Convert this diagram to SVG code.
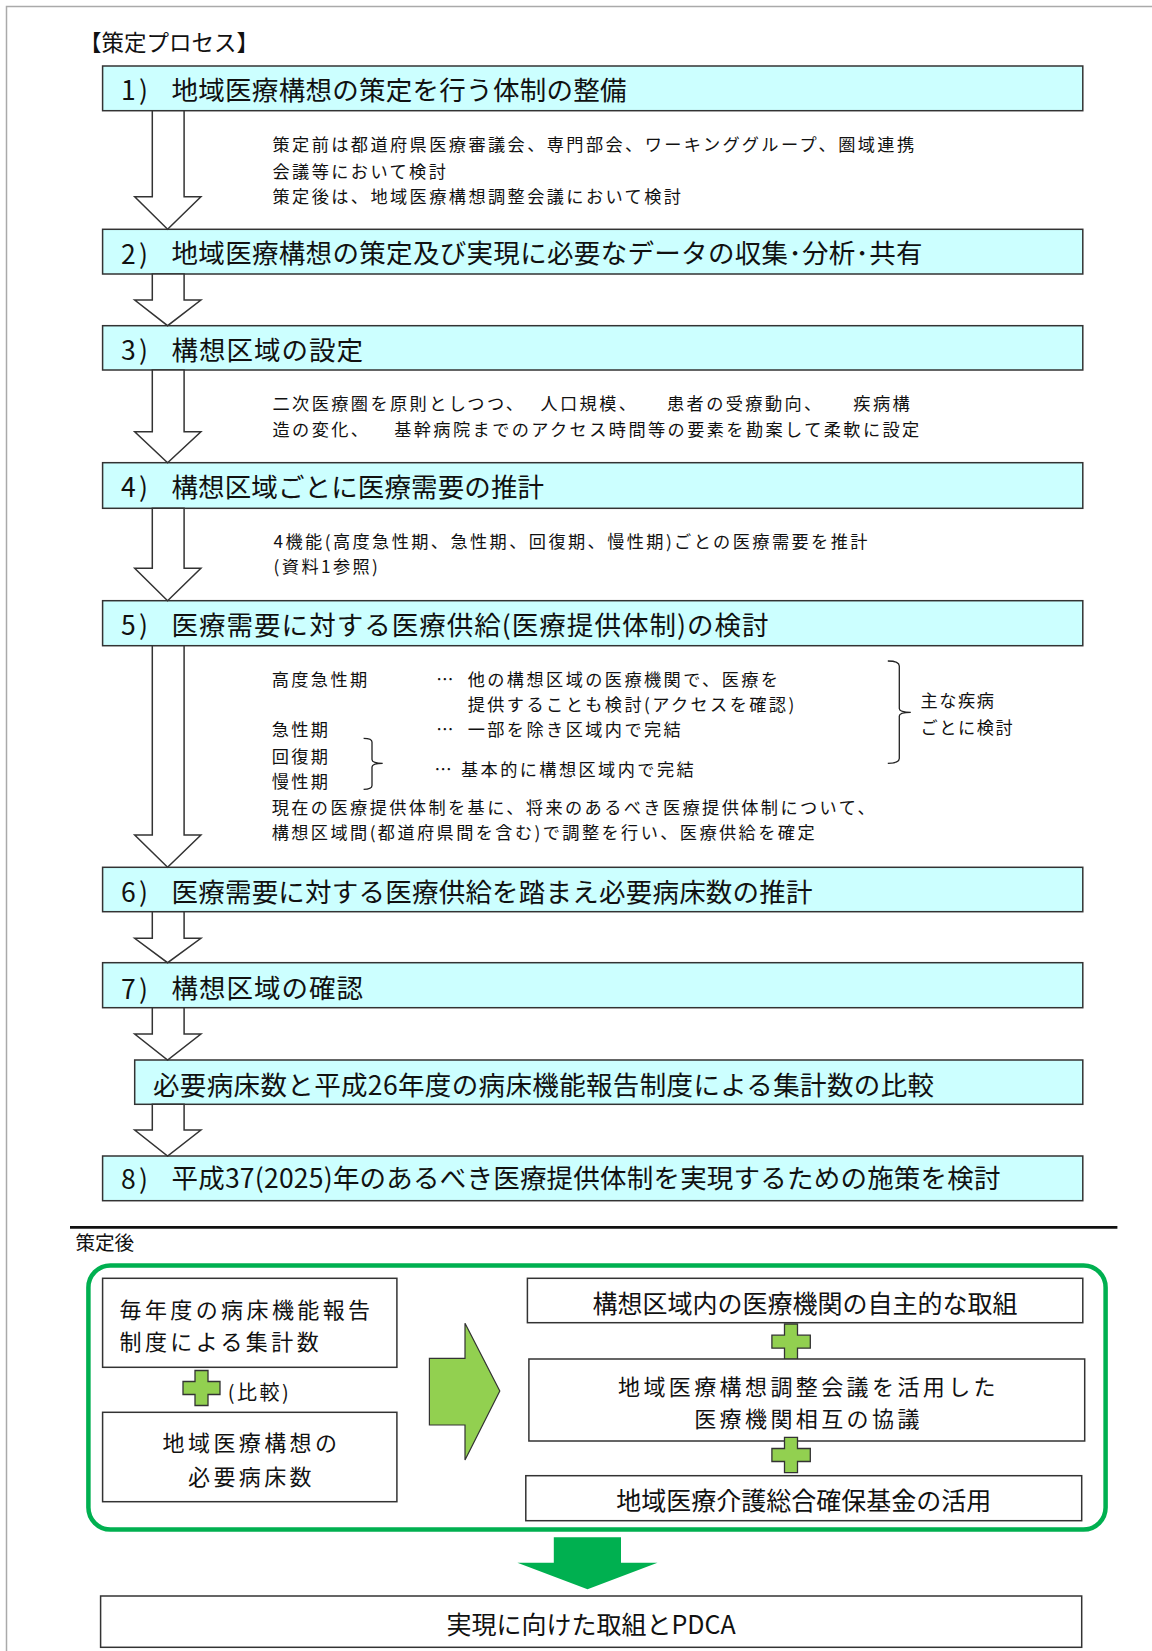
<svg xmlns="http://www.w3.org/2000/svg" width="1152" height="1651" viewBox="0 0 1152 1651">
<style>
.box{fill:#CCFFFF;stroke:#333;stroke-width:1.5}
.wbox{fill:#fff;stroke:#333;stroke-width:1.5}
.arrow{fill:#fff;stroke:#333;stroke-width:1.5;stroke-linejoin:miter}
.plus{fill:#92D050;stroke:#333;stroke-width:1.3}
.t{font-family:"Noto Sans CJK JP","Noto Sans",sans-serif;fill:#111;dominant-baseline:central}
.h{font-size:26.5px}
.d{font-size:17.2px;letter-spacing:2.4px}
.b{font-size:22px;letter-spacing:3.4px}
.b1{font-size:25px}
.mid{text-anchor:middle}
.br{fill:none;stroke:#222;stroke-width:1.3}
</style>
<rect x="0" y="0" width="1152" height="1651" fill="#fff"/>
<path d="M6.5,1651 L6.5,6.5 L1152,6.5" fill="none" stroke="#aaa" stroke-width="1.5"/>
<text class="t" x="79" y="40.5" font-size="22.5px">【策定プロセス】</text>

<g id="step1">
<rect class="box" x="102.6" y="66" width="980.2" height="44.7"/>
<text class="t h" y="88.3"><tspan x="121">1</tspan><tspan x="139">)</tspan></text>
<text class="t h" x="171.5" y="88.3" textLength="455" lengthAdjust="spacing">地域医療構想の策定を行う体制の整備</text>
</g>
<g id="note1">
<text class="t d" x="272.5" y="143.3">策定前は都道府県医療審議会、専門部会、ワーキンググループ、圏域連携</text>
<text class="t d" x="272.5" y="170">会議等において検討</text>
<text class="t d" x="272.5" y="195">策定後は、地域医療構想調整会議において検討</text>
</g>
<g id="step2">
<rect class="box" x="102.6" y="229.3" width="980.2" height="44.7"/>
<text class="t h" y="251.7"><tspan x="121">2</tspan><tspan x="139">)</tspan></text>
<text class="t h" x="171.5" y="251.7" textLength="751" lengthAdjust="spacing">地域医療構想の策定及び実現に必要なデータの収集･分析･共有</text>
</g>
<g id="step3">
<rect class="box" x="102.6" y="325.7" width="980.2" height="44.3"/>
<text class="t h" y="348.3"><tspan x="121">3</tspan><tspan x="139">)</tspan></text>
<text class="t h" x="171.5" y="348.3" textLength="191.5" lengthAdjust="spacing">構想区域の設定</text>
</g>
<g id="note3">
<text class="t d" y="401.7"><tspan x="272.5">二次医療圏を原則としつつ、</tspan><tspan x="540.4">人口規模、</tspan><tspan x="667">患者の受療動向、</tspan><tspan x="853.3">疾病構</tspan></text>
<text class="t d" y="428.3"><tspan x="272.5">造の変化、</tspan><tspan x="394.2">基幹病院までのアクセス時間等の要素を勘案して柔軟に設定</tspan></text>
</g>
<g id="step4">
<rect class="box" x="102.6" y="462.7" width="980.2" height="45.6"/>
<text class="t h" y="485"><tspan x="121">4</tspan><tspan x="139">)</tspan></text>
<text class="t h" x="171.5" y="485" textLength="372.5" lengthAdjust="spacing">構想区域ごとに医療需要の推計</text>
</g>
<g id="note4">
<text class="t d" x="273.6" y="540">4機能(高度急性期、急性期、回復期、慢性期)ごとの医療需要を推計</text>
<text class="t d" x="273.6" y="565">(資料1参照)</text>
</g>
<g id="step5">
<rect class="box" x="102.6" y="600.7" width="980.2" height="45"/>
<text class="t h" y="623.3"><tspan x="121">5</tspan><tspan x="139">)</tspan></text>
<text class="t h" x="171.5" y="623.3" textLength="597" lengthAdjust="spacing">医療需要に対する医療供給(医療提供体制)の検討</text>
</g>
<g id="note5">
<text class="t d" x="271.7" y="678.3">高度急性期</text>
<text class="t d" x="436.3" y="678.3">…</text>
<text class="t d" x="467.7" y="678.3">他の構想区域の医療機関で、医療を</text>
<text class="t d" x="467.7" y="703.3">提供することも検討(アクセスを確認)</text>
<text class="t d" x="271.7" y="728.3">急性期</text>
<text class="t d" x="436.3" y="728.3">…</text>
<text class="t d" x="467.7" y="728.3">一部を除き区域内で完結</text>
<text class="t d" x="271.7" y="755">回復期</text>
<text class="t d" x="271.7" y="780">慢性期</text>
<path class="br" d="M363.6,738.3 Q372,738.3 372,742 L372,759.5 Q372,763.3 382.7,763.3 Q372,763.3 372,767 L372,785.5 Q372,789.3 363.6,789.3"/>
<text class="t d" x="434.4" y="768.3">…</text>
<text class="t d" x="461" y="768.3">基本的に構想区域内で完結</text>
<path class="br" d="M887.8,661 Q899.3,661 899.3,666 L899.3,708.5 Q899.3,712.3 910.8,712.3 Q899.3,712.3 899.3,716 L899.3,758.5 Q899.3,763.3 887.8,763.3"/>
<text class="t d" x="920.4" y="699" style="letter-spacing:1.6px">主な疾病</text>
<text class="t d" x="920.4" y="726.7" style="letter-spacing:1.6px">ごとに検討</text>
<text class="t d" x="271.7" y="806.7">現在の医療提供体制を基に、将来のあるべき医療提供体制について、</text>
<text class="t d" x="271.7" y="831.7">構想区域間(都道府県間を含む)で調整を行い、医療供給を確定</text>
</g>
<g id="step6">
<rect class="box" x="102.6" y="867.3" width="980.2" height="44.4"/>
<text class="t h" y="890"><tspan x="121">6</tspan><tspan x="139">)</tspan></text>
<text class="t h" x="171.5" y="890" textLength="641" lengthAdjust="spacing">医療需要に対する医療供給を踏まえ必要病床数の推計</text>
</g>
<g id="step7">
<rect class="box" x="102.6" y="962.7" width="980.2" height="45"/>
<text class="t h" y="986.7"><tspan x="121">7</tspan><tspan x="139">)</tspan></text>
<text class="t h" x="171.5" y="986.7" textLength="191.5" lengthAdjust="spacing">構想区域の確認</text>
</g>
<g id="compare">
<rect class="box" x="134.7" y="1060" width="948.1" height="44.3"/>
<text class="t h" x="153" y="1083.3" textLength="781" lengthAdjust="spacing">必要病床数と平成26年度の病床機能報告制度による集計数の比較</text>
</g>
<g id="step8">
<rect class="box" x="102.6" y="1156" width="980.2" height="44.7"/>
<text class="t h" y="1176.7"><tspan x="121">8</tspan><tspan x="139">)</tspan></text>
<text class="t h" x="171.5" y="1176.7" textLength="829" lengthAdjust="spacing">平成37(2025)年のあるべき医療提供体制を実現するための施策を検討</text>
</g>

<g id="connectors">
<polygon class="arrow" points="152.3,110.7 184.1,110.7 184.1,196.7 200.9,196.7 167.6,229.3 134.7,196.7 152.3,196.7"/>
<polygon class="arrow" points="152.3,274 184.1,274 184.1,300 200.9,300 167.6,325.7 134.7,300 152.3,300"/>
<polygon class="arrow" points="152.3,370 184.1,370 184.1,431.7 200.9,431.7 167.6,462.7 134.7,431.7 152.3,431.7"/>
<polygon class="arrow" points="152.3,508.3 184.1,508.3 184.1,568.3 200.9,568.3 167.6,600.7 134.7,568.3 152.3,568.3"/>
<polygon class="arrow" points="152.3,645.7 184.1,645.7 184.1,835 200.9,835 167.6,867.3 134.7,835 152.3,835"/>
<polygon class="arrow" points="152.3,911.7 184.1,911.7 184.1,938.3 200.9,938.3 167.6,962.7 134.7,938.3 152.3,938.3"/>
<polygon class="arrow" points="152.3,1007.7 184.1,1007.7 184.1,1034 200.9,1034 167.6,1060 134.7,1034 152.3,1034"/>
<polygon class="arrow" points="152.3,1104.3 184.1,1104.3 184.1,1130 200.9,1130 167.6,1156 134.7,1130 152.3,1130"/>
<polygon points="429.4,1358.3 465,1358.3 465,1323.3 499.8,1391 465,1460 465,1425 429.4,1425" fill="#92D050" stroke="#333" stroke-width="1.2"/>
<polygon points="553.8,1537.3 621,1537.3 621,1562.7 657.5,1562.7 587.5,1589.3 517.4,1562.7 553.8,1562.7" fill="#00B050"/>
</g>

<line x1="70" y1="1227.3" x2="1117.4" y2="1227.3" stroke="#111" stroke-width="2.8"/>
<text class="t" x="75.4" y="1241.7" font-size="19.6px">策定後</text>
<rect x="88.4" y="1265.5" width="1017.2" height="264" rx="22" ry="22" fill="none" stroke="#00B050" stroke-width="4.5"/>

<g id="annual">
<rect class="wbox" x="102.6" y="1278.3" width="294.3" height="89"/>
<text class="t b" x="119.5" y="1308.3">毎年度の病床機能報告</text>
<text class="t b" x="119.5" y="1340">制度による集計数</text>
</g>
<g id="plus-compare">
<polygon class="plus" points="195,1370.5 208,1370.5 208,1381.5 220,1381.5 220,1394.5 208,1394.5 208,1405.5 195,1405.5 195,1394.5 183,1394.5 183,1381.5 195,1381.5"/>
<text class="t" x="227.7" y="1391.7" font-size="20px" letter-spacing="2.5">(比較)</text>
</g>
<g id="required">
<rect class="wbox" x="102.6" y="1412.3" width="294.3" height="89.4"/>
<text class="t b mid" x="251.5" y="1440.7">地域医療構想の</text>
<text class="t b mid" x="251.5" y="1475">必要病床数</text>
</g>
<g id="voluntary">
<rect class="wbox" x="527.4" y="1278.3" width="555.4" height="44.4"/>
<text class="t b1 mid" x="805" y="1301.7">構想区域内の医療機関の自主的な取組</text>
</g>
<g id="plus1">
<polygon class="plus" points="784.5,1324 797.5,1324 797.5,1335.2 810.3,1335.2 810.3,1348.2 797.5,1348.2 797.5,1359.3 784.5,1359.3 784.5,1348.2 771.9,1348.2 771.9,1335.2 784.5,1335.2"/>
</g>
<g id="council">
<rect class="wbox" x="528.9" y="1359" width="555.8" height="82"/>
<text class="t b mid" x="808.5" y="1385">地域医療構想調整会議を活用した</text>
<text class="t b mid" x="808.5" y="1416.7">医療機関相互の協議</text>
</g>
<g id="plus2">
<polygon class="plus" points="784.5,1437.3 797.5,1437.3 797.5,1448.5 810.3,1448.5 810.3,1461.5 797.5,1461.5 797.5,1472.7 784.5,1472.7 784.5,1461.5 771.9,1461.5 771.9,1448.5 784.5,1448.5"/>
</g>
<g id="fund">
<rect class="wbox" x="525.8" y="1475.7" width="555.9" height="45"/>
<text class="t b1 mid" x="803.7" y="1499.3">地域医療介護総合確保基金の活用</text>
</g>
<g id="pdca">
<rect class="wbox" x="100.6" y="1596" width="981.1" height="51.3"/>
<text class="t b1 mid" x="591" y="1623.3">実現に向けた取組とPDCA</text>
</g>
</svg>
